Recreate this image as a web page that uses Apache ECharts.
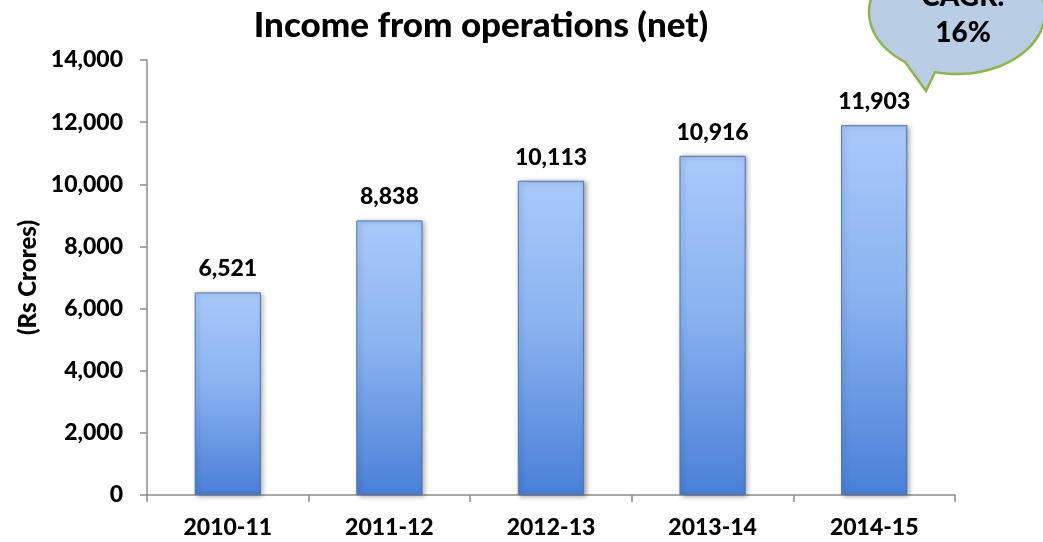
<!DOCTYPE html>
<html><head><meta charset="utf-8">
<script src="https://cdn.jsdelivr.net/npm/echarts@6/dist/echarts.min.js"></script>
<style>html,body{margin:0;padding:0;background:#fff}#c{width:1043px;height:542px}</style>
</head><body><div id="c"></div>
<script>
const categories = ['2010-11','2011-12','2012-13','2013-14','2014-15'];
const values = [6521, 8838, 10113, 10916, 11903];
const yTicks = {min:0, max:14000, interval:2000};
const titleText = 'Income from operations (net)';
const yAxisName = '(Rs Crores)';
const calloutText = 'CAGR:\n16%';

const F = 'Lato';
const W = 900;
// callout bubble outline (decoration, not data)
function bubblePoints(){
  const cx=957, cy=12, rx=88, ry=62;
  const pts=[[926,91]];
  const a0=Math.atan2((72-cy)/ry,(935-cx)/rx);
  const a1=Math.atan2((62-cy)/ry,(905-cx)/rx)-Math.PI*2;
  const n=90;
  for(let i=0;i<=n;i++){
    const a=a0+(a1-a0)*i/n;
    pts.push([cx+rx*Math.cos(a), cy+ry*Math.sin(a)]);
  }
  return pts;
}
const chart = echarts.init(document.getElementById('c'));
chart.setOption({
  animation:false,
  backgroundColor:'#fff',
  title:{text:titleText,left:476,top:3,textAlign:'center',
    textStyle:{fontFamily:F,fontWeight:W,fontSize:35,color:'#000'}},
  grid:{left:147,right:88,top:60,bottom:47,containLabel:false},
  xAxis:{type:'category',data:categories,
    axisLine:{lineStyle:{color:'#8c8c8c',width:1.5}},
    axisTick:{show:true,length:7,lineStyle:{color:'#8c8c8c',width:1.5}},
    axisLabel:{fontFamily:F,fontWeight:W,fontSize:23,color:'#000',margin:21}},
  yAxis:{type:'value',min:yTicks.min,max:yTicks.max,interval:yTicks.interval,
    name:yAxisName,nameLocation:'middle',nameGap:106,nameRotate:90,
    nameTextStyle:{fontFamily:F,fontWeight:W,fontSize:24,color:'#000'},
    axisLine:{show:true,lineStyle:{color:'#8c8c8c',width:1.5}},
    axisTick:{show:true,length:7,lineStyle:{color:'#8c8c8c',width:1.5}},
    splitLine:{show:false},
    axisLabel:{fontFamily:F,fontWeight:W,fontSize:23,color:'#000',margin:24,
      formatter:v=>v.toLocaleString('en-US')}},
  series:[{type:'bar',data:values,barWidth:'41%',
    itemStyle:{
      color:new echarts.graphic.LinearGradient(0,0,0,1,[
        {offset:0,color:'#a9c9fa'},{offset:0.45,color:'#8bb3f0'},{offset:1,color:'#4a80d8'}]),
      borderColor:'#4f74ad',borderWidth:1,
      shadowColor:'rgba(0,0,0,0.35)',shadowBlur:5,shadowOffsetX:2,shadowOffsetY:1},
    label:{show:true,position:'top',distance:12,fontFamily:F,fontWeight:W,fontSize:23,color:'#000',
      formatter:p=>p.value.toLocaleString('en-US')}}],
  graphic:[
    {type:'polygon',shape:{points:bubblePoints()},
      style:{fill:'#b9cde5',stroke:'#8fb34f',lineWidth:2.5},z:10},
    {type:'text',x:963,y:-21,z:11,
      style:{text:calloutText,fontFamily:F,fontWeight:W,fontSize:28,lineHeight:36,
        fill:'#000',align:'center',verticalAlign:'top'}}
  ]
});
</script></body></html>
